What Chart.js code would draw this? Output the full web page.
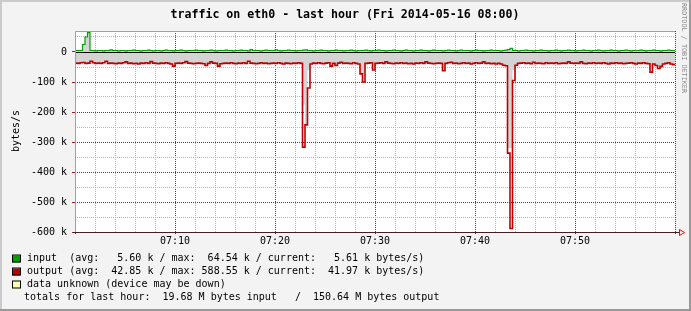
<!DOCTYPE html>
<html>
<head>
<meta charset="utf-8">
<script src="https://cdn.jsdelivr.net/npm/chart.js@4.4.0/dist/chart.umd.min.js"></script>
<style>
  html, body { margin: 0; padding: 0; background: #f3f3f3; }
  canvas { display: block; }
</style>
</head>
<body>
<canvas id="chartTraffic" width="691" height="311"></canvas>
<script>
// traffic on eth0, last hour, one value every 15 s (k bytes/s)
let stepMinutes = 0.25;
let startHour = 7;

let inputValues = [
  5, 5, 5, 25, 50, 64.54, 5, 5, 4, 5,
  5, 4, 5, 5, 7, 5, 5, 4, 5, 5,
  4, 5, 5, 6, 5, 5, 4, 5, 5, 6,
  5, 4, 5, 5, 4, 5, 6, 5, 5, 4,
  5, 5, 6, 5, 4, 5, 5, 5, 6, 5,
  5, 4, 5, 5, 6, 5, 4, 5, 5, 5,
  6, 5, 5, 4, 5, 5, 6, 5, 5, 4,
  8, 5, 5, 5, 4, 5, 6, 5, 5, 5,
  7, 5, 4, 5, 5, 6, 5, 5, 4, 5,
  5, 6, 7, 5, 5, 4, 5, 5, 6, 5,
  5, 4, 5, 5, 6, 5, 5, 4, 5, 5,
  6, 5, 4, 5, 5, 5, 6, 5, 4, 5,
  5, 6, 5, 5, 4, 5, 5, 6, 5, 5,
  4, 5, 6, 5, 5, 4, 5, 5, 6, 5,
  5, 4, 5, 6, 5, 5, 5, 4, 5, 6,
  5, 5, 4, 5, 6, 5, 5, 5, 4, 5,
  6, 5, 5, 4, 5, 5, 6, 5, 5, 5,
  4, 5, 6, 8, 12, 5, 5, 4, 5, 5,
  6, 5, 5, 4, 5, 5, 6, 5, 5, 4,
  5, 5, 6, 5, 4, 5, 5, 6, 5, 5,
  4, 5, 5, 6, 5, 5, 4, 5, 5, 6,
  5, 4, 5, 5, 6, 5, 5, 4, 5, 5,
  6, 5, 4, 5, 5, 5, 6, 5, 4, 5,
  5, 6, 5, 5, 4, 5, 5, 6, 5, 5
];

// output is drawn below zero: red line = max, grey area = average
let outputMax = [
  -37, -38, -36, -35, -38, -37, -31, -36, -38, -37,
  -38, -36, -31, -38, -37, -38, -39, -37, -38, -36,
  -33, -38, -37, -39, -38, -40, -37, -38, -36, -38,
  -32, -37, -38, -39, -37, -38, -36, -38, -40, -47,
  -38, -37, -38, -36, -32, -37, -38, -39, -38, -37,
  -38, -39, -45, -38, -33, -37, -38, -47, -39, -38,
  -37, -38, -36, -38, -39, -37, -38, -36, -38, -31,
  -37, -38, -39, -38, -36, -38, -37, -39, -38, -37,
  -38, -36, -38, -40, -37, -38, -39, -37, -38, -36,
  -38, -317, -243, -120, -40, -37, -38, -36, -38, -39,
  -37, -36, -47, -38, -45, -37, -34, -38, -37, -38,
  -39, -36, -38, -40, -73, -100, -38, -37, -36, -60,
  -38, -37, -36, -38, -33, -37, -38, -39, -37, -38,
  -36, -38, -37, -39, -38, -40, -37, -38, -36, -38,
  -33, -37, -38, -39, -38, -37, -38, -62, -38, -36,
  -34, -38, -37, -39, -38, -36, -38, -37, -40, -38,
  -36, -38, -37, -33, -38, -37, -39, -38, -40, -38,
  -40, -44, -46, -337, -588.55, -95, -44, -38, -37, -36,
  -38, -37, -39, -34, -38, -37, -38, -39, -36, -38,
  -37, -38, -36, -39, -38, -37, -38, -33, -37, -38,
  -37, -38, -33, -38, -39, -37, -38, -36, -38, -37,
  -38, -36, -38, -40, -37, -38, -36, -38, -37, -39,
  -38, -37, -36, -38, -40, -37, -38, -36, -38, -39,
  -67, -40, -45, -55, -48, -40, -38, -36, -40, -42
];

let outputAvg = [
  -37, -38, -36, -35, -38, -37, -31, -36, -38, -37,
  -38, -36, -31, -38, -37, -38, -39, -37, -38, -36,
  -33, -38, -37, -39, -38, -40, -37, -38, -36, -38,
  -32, -37, -38, -39, -37, -38, -36, -38, -40, -47,
  -38, -37, -38, -36, -32, -37, -38, -39, -38, -37,
  -38, -39, -45, -38, -33, -37, -38, -47, -39, -38,
  -37, -38, -36, -38, -39, -37, -38, -36, -38, -31,
  -37, -38, -39, -38, -36, -38, -37, -39, -38, -37,
  -38, -36, -38, -40, -37, -38, -39, -37, -38, -36,
  -38, -175, -243, -60, -40, -37, -38, -36, -38, -39,
  -37, -36, -47, -38, -45, -37, -34, -38, -37, -38,
  -39, -36, -38, -40, -73, -73, -38, -37, -36, -55,
  -38, -37, -36, -38, -33, -37, -38, -39, -37, -38,
  -36, -38, -37, -39, -38, -40, -37, -38, -36, -38,
  -33, -37, -38, -39, -38, -37, -38, -55, -38, -36,
  -34, -38, -37, -39, -38, -36, -38, -37, -40, -38,
  -36, -38, -37, -33, -38, -37, -39, -38, -40, -38,
  -40, -44, -46, -320, -320, -60, -44, -38, -37, -36,
  -38, -37, -39, -34, -38, -37, -38, -39, -36, -38,
  -37, -38, -36, -39, -38, -37, -38, -33, -37, -38,
  -37, -38, -33, -38, -39, -37, -38, -36, -38, -37,
  -38, -36, -38, -40, -37, -38, -36, -38, -37, -39,
  -38, -37, -36, -38, -40, -37, -38, -36, -38, -39,
  -55, -40, -45, -50, -48, -40, -38, -36, -40, -42
];

let yTicks = [-600, -550, -500, -450, -400, -350, -300, -250, -200, -150, -100, -50, 0, 50];
let xTicks = [0, 2, 4, 6, 8, 10, 12, 14, 16, 18, 20, 22, 24, 26, 28, 30,
  32, 34, 36, 38, 40, 42, 44, 46, 48, 50, 52, 54, 56, 58, 60];

let title = 'traffic on eth0 - last hour (Fri 2014-05-16 08:00)';
let legendRows = [
  { color: '#00a000', text: 'input  (avg:   5.60 k / max:  64.54 k / current:   5.61 k bytes/s)' },
  { color: '#c00000', text: 'output (avg:  42.85 k / max: 588.55 k / current:  41.97 k bytes/s)' },
  { color: '#ffffb0', text: 'data unknown (device may be down)' },
  { color: null, text: 'totals for last hour:  19.68 M bytes input   /  150.64 M bytes output' }
];

let mono = '"DejaVu Sans Mono", monospace';

// each value holds from its own time until the next one
function toPoints(values) {
  let pts = values.map(function(v, i) { return { x: i * stepMinutes, y: v }; });
  pts.push({ x: values.length * stepMinutes, y: values[values.length - 1] });
  return pts;
}

let rrdLook = {
  id: 'rrdLook',
  beforeDraw: function(chart) {
    let ctx = chart.ctx, a = chart.chartArea, w = chart.width, h = chart.height;
    ctx.save();
    ctx.fillStyle = '#f3f3f3';
    ctx.fillRect(0, 0, w, h);
    ctx.fillStyle = '#cbcbcb';
    ctx.fillRect(0, 0, w, 2);
    ctx.fillRect(0, 0, 2, h);
    ctx.fillStyle = '#999999';
    ctx.fillRect(w - 2, 0, 2, h);
    ctx.fillRect(0, h - 2, w, 2);
    ctx.fillStyle = '#ffffff';
    ctx.fillRect(a.left, a.top, a.right - a.left, a.bottom - a.top);
    ctx.restore();
  },
  afterDatasetsDraw: function(chart) {
    let ctx = chart.ctx, a = chart.chartArea;
    let y0 = Math.round(chart.scales.y.getPixelForValue(0)) + 0.5;
    ctx.save();
    ctx.lineWidth = 1;
    // zero line
    ctx.strokeStyle = '#000000';
    ctx.beginPath();
    ctx.moveTo(a.left, y0);
    ctx.lineTo(a.right, y0);
    ctx.stroke();
    // frame
    ctx.strokeStyle = '#a0a0a0';
    ctx.beginPath();
    ctx.moveTo(a.left + 0.5, a.bottom);
    ctx.lineTo(a.left + 0.5, a.top + 0.5);
    ctx.lineTo(a.right, a.top + 0.5);
    ctx.stroke();
    // x axis with arrow
    let yb = Math.round(a.bottom) + 0.5;
    ctx.strokeStyle = '#402020';
    ctx.beginPath();
    ctx.moveTo(a.left - 2, yb);
    ctx.lineTo(a.right + 5, yb);
    ctx.stroke();
    ctx.strokeStyle = '#ff0000';
    ctx.beginPath();
    ctx.moveTo(a.right + 4.5, yb - 3);
    ctx.lineTo(a.right + 9.5, yb);
    ctx.lineTo(a.right + 4.5, yb + 3);
    ctx.closePath();
    ctx.stroke();
    ctx.restore();
  },
  afterDraw: function(chart) {
    let ctx = chart.ctx;
    ctx.save();
    ctx.fillStyle = '#000000';
    ctx.textBaseline = 'middle';
    ctx.textAlign = 'center';
    ctx.font = 'bold 11.6px ' + mono;
    ctx.fillText(title, 345, 15);

    // y axis title
    ctx.font = '10px ' + mono;
    ctx.save();
    ctx.translate(16, 131);
    ctx.rotate(-Math.PI / 2);
    ctx.fillText('bytes/s', 0, 0);
    ctx.restore();

    // side credit
    ctx.save();
    ctx.fillStyle = '#8a8a8a';
    ctx.font = '6.8px ' + mono;
    ctx.translate(684, 3);
    ctx.rotate(Math.PI / 2);
    ctx.textAlign = 'left';
    ctx.fillText('RRDTOOL / TOBI OETIKER', 0, 0);
    ctx.restore();

    // legend
    ctx.textAlign = 'left';
    ctx.font = '10px ' + mono;
    let rowY = [258.5, 271.5, 284.5, 297];
    legendRows.forEach(function(row, i) {
      let y = rowY[i];
      if (row.color) {
        ctx.fillStyle = row.color;
        ctx.fillRect(12, y - 3, 8, 7);
        ctx.strokeStyle = '#000000';
        ctx.lineWidth = 1;
        ctx.strokeRect(12.5, y - 3.5, 8, 7);
        ctx.fillStyle = '#000000';
        ctx.fillText(row.text, 27, y);
      } else {
        ctx.fillStyle = '#000000';
        ctx.fillText(row.text, 24, y);
      }
    });
    ctx.restore();
  }
};

let traffic = document.getElementById('chartTraffic').getContext('2d');

let chartTraffic = new Chart(traffic, {
  type: 'line',
  data: {
    datasets: [{
      label: 'output avg',
      data: toPoints(outputAvg),
      stepped: 'before',
      borderWidth: 0,
      borderColor: 'rgba(0,0,0,0)',
      backgroundColor: '#d4d4d4',
      fill: 'origin',
      pointRadius: 0,
      order: 4
    }, {
      label: 'input',
      data: toPoints(inputValues),
      stepped: 'before',
      borderWidth: 1.2,
      borderColor: '#00a000',
      backgroundColor: '#d4d4d4',
      fill: 'origin',
      pointRadius: 0,
      order: 2
    }, {
      label: 'output',
      data: toPoints(outputMax),
      stepped: 'before',
      borderWidth: 1.6,
      borderColor: '#c00000',
      fill: false,
      pointRadius: 0,
      order: 1
    }]
  },
  options: {
    responsive: false,
    animation: false,
    events: [],
    layout: {
      padding: { left: 0, top: 31, right: 16, bottom: 59 }
    },
    plugins: {
      legend: { display: false },
      title: { display: false },
      tooltip: { enabled: false }
    },
    scales: {
      x: {
        type: 'linear',
        min: 0,
        max: 60,
        afterBuildTicks: function(scale) {
          scale.ticks = xTicks.map(function(v) { return { value: v }; });
        },
        afterFit: function(scale) { scale.height = 20; },
        border: { display: false, dash: [1, 1] },
        grid: {
          color: function(c) {
            let v = c.tick ? c.tick.value : 0;
            if (v === 0) return 'rgba(0,0,0,0)';
            return v % 10 === 0 ? '#a02020' : '#b4b4b4';
          },
          tickColor: function(c) {
            let v = c.tick ? c.tick.value : 0;
            return v % 10 === 0 ? '#a02020' : 'rgba(0,0,0,0)';
          },
          tickLength: 2,
          lineWidth: 1
        },
        ticks: {
          autoSkip: false,
          maxRotation: 0,
          padding: 1,
          color: '#000000',
          font: { family: mono, size: 10 },
          callback: function(v) {
            if (v % 10 !== 0 || v <= 0 || v >= 60) return '';
            return '0' + startHour + ':' + v;
          }
        }
      },
      y: {
        min: -600,
        max: 70,
        afterBuildTicks: function(scale) {
          scale.ticks = yTicks.map(function(v) { return { value: v }; });
        },
        afterFit: function(scale) { scale.width = 75; },
        border: { display: false, dash: [1, 1] },
        grid: {
          color: function(c) {
            let v = c.tick ? c.tick.value : 0;
            return v % 100 === 0 ? '#a02020' : '#b4b4b4';
          },
          tickColor: function(c) {
            let v = c.tick ? c.tick.value : 0;
            return v % 100 === 0 ? '#a02020' : 'rgba(0,0,0,0)';
          },
          tickLength: 3,
          lineWidth: 1
        },
        ticks: {
          padding: 5,
          color: '#000000',
          font: { family: mono, size: 10 },
          callback: function(v) {
            if (v % 100 !== 0) return '';
            return v === 0 ? '0' : v + ' k';
          }
        }
      }
    }
  },
  plugins: [rrdLook]
});
</script>
</body>
</html>
